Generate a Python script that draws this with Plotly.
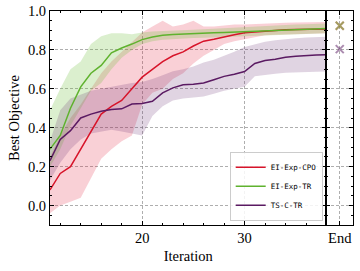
import plotly.graph_objects as go

iterations = [11, 12, 13, 14, 15, 16, 17, 18, 19, 20, 21, 22, 23, 24, 25, 26, 27, 28, 29, 30, 31, 32, 33, 34, 35, 36, 37, 38]

cpo_mean = [0.08, 0.165, 0.20, 0.29, 0.38, 0.47, 0.51, 0.54, 0.60, 0.66, 0.70, 0.74, 0.77, 0.79, 0.82, 0.845, 0.855, 0.868, 0.878, 0.888, 0.892, 0.897, 0.90, 0.903, 0.905, 0.906, 0.907, 0.908]
cpo_lo = [-0.04, 0.0, 0.02, 0.04, 0.14, 0.24, 0.29, 0.33, 0.36, 0.52, 0.58, 0.60, 0.65, 0.68, 0.73, 0.77, 0.80, 0.83, 0.845, 0.855, 0.865, 0.875, 0.878, 0.88, 0.882, 0.883, 0.884, 0.885]
cpo_hi = [0.25, 0.36, 0.45, 0.52, 0.60, 0.68, 0.74, 0.79, 0.84, 0.89, 0.92, 0.95, 0.92, 0.93, 0.95, 0.92, 0.92, 0.925, 0.93, 0.93, 0.933, 0.936, 0.938, 0.94, 0.941, 0.942, 0.943, 0.944]

tr_mean = [0.29, 0.36, 0.50, 0.61, 0.68, 0.72, 0.785, 0.81, 0.83, 0.853, 0.866, 0.875, 0.879, 0.882, 0.884, 0.886, 0.888, 0.890, 0.892, 0.894, 0.896, 0.898, 0.900, 0.902, 0.904, 0.906, 0.908, 0.910]
tr_lo = [0.20, 0.29, 0.41, 0.50, 0.59, 0.63, 0.70, 0.76, 0.80, 0.83, 0.845, 0.852, 0.856, 0.859, 0.861, 0.863, 0.865, 0.867, 0.869, 0.871, 0.873, 0.875, 0.877, 0.879, 0.881, 0.883, 0.884, 0.885]
tr_hi = [0.49, 0.60, 0.70, 0.74, 0.83, 0.87, 0.885, 0.885, 0.88, 0.89, 0.895, 0.898, 0.90, 0.902, 0.904, 0.906, 0.909, 0.912, 0.915, 0.918, 0.92, 0.923, 0.926, 0.928, 0.93, 0.932, 0.934, 0.936]

ts_mean = [0.23, 0.34, 0.385, 0.45, 0.47, 0.485, 0.494, 0.497, 0.522, 0.524, 0.536, 0.579, 0.605, 0.621, 0.623, 0.63, 0.647, 0.664, 0.675, 0.689, 0.73, 0.745, 0.752, 0.762, 0.768, 0.772, 0.774, 0.775]
ts_lo = [0.13, 0.22, 0.29, 0.34, 0.37, 0.38, 0.39, 0.38, 0.37, 0.36, 0.46, 0.51, 0.54, 0.55, 0.555, 0.56, 0.575, 0.59, 0.60, 0.61, 0.665, 0.672, 0.678, 0.682, 0.685, 0.687, 0.688, 0.689]
ts_hi = [0.33, 0.49, 0.55, 0.57, 0.59, 0.60, 0.61, 0.62, 0.63, 0.635, 0.65, 0.67, 0.69, 0.70, 0.715, 0.735, 0.75, 0.77, 0.79, 0.815, 0.83, 0.842, 0.85, 0.856, 0.86, 0.864, 0.867, 0.868]

end_label = ["End"]
end_values = {"EI-Exp-CPO": 0.924, "EI-Exp-TR": 0.924, "TS-C-TR": 0.804}

series = [
    ("EI-Exp-CPO", cpo_mean, cpo_lo, cpo_hi, "#d7142a", "rgba(228,40,70,0.22)"),
    ("EI-Exp-TR", tr_mean, tr_lo, tr_hi, "#5fb22e", "rgba(110,190,60,0.25)"),
    ("TS-C-TR", ts_mean, ts_lo, ts_hi, "#5a1a62", "rgba(100,40,110,0.2)"),
]

fig = go.Figure()
for name, mean, lo, hi, col, fcol in series:
    fig.add_trace(go.Scatter(x=iterations, y=lo, mode="lines", line=dict(width=0), showlegend=False,
                             hoverinfo="skip", xaxis="x", yaxis="y"))
    fig.add_trace(go.Scatter(x=iterations, y=hi, mode="lines", line=dict(width=0), fill="tonexty",
                             fillcolor=fcol, showlegend=False, hoverinfo="skip", xaxis="x", yaxis="y"))
for name, mean, lo, hi, col, fcol in series:
    fig.add_trace(go.Scatter(x=iterations, y=mean, mode="lines", name=name, line=dict(color=col, width=1.5),
                             xaxis="x", yaxis="y"))
for name, mean, lo, hi, col, fcol in series:
    fig.add_trace(go.Scatter(x=[0], y=[end_values[name]], mode="markers", showlegend=False,
                             marker=dict(symbol="x-thin", size=8, line=dict(color=col, width=2)),
                             opacity=0.5, xaxis="x2", yaxis="y2"))

font_family = "Liberation Serif"
grid = dict(showgrid=True, gridcolor="rgba(130,130,130,0.65)", griddash="3px,2px", gridwidth=0.8)
common_y = dict(range=[-0.1, 1.0], tickmode="array", tickvals=[0.0, 0.2, 0.4, 0.6, 0.8, 1.0],
                ticks="inside", ticklen=4, tickcolor="black", showline=True, linecolor="black", linewidth=1,
                mirror="ticks", zeroline=False, automargin=False,
                minor=dict(dtick=0.05, tick0=0, ticks="inside", ticklen=2, tickcolor="black", showgrid=False),
                **grid)

fig.update_layout(
    width=360, height=271,
    margin=dict(l=50, r=7, t=11, b=46),
    paper_bgcolor="white", plot_bgcolor="white",
    font=dict(family=font_family, size=14.5, color="black"),
    xaxis=dict(domain=[0, 0.9125], range=[11, 38], tickmode="array", tickvals=[20, 30],
               ticks="inside", ticklen=4, tickcolor="black", showline=True, linecolor="black", linewidth=1,
               mirror="ticks", zeroline=False, anchor="y", automargin=False,
               minor=dict(tickvals=[12, 14, 16, 18, 22, 24, 26, 28, 32, 34, 36], ticks="inside", ticklen=2,
                          tickcolor="black", showgrid=False),
               title=dict(text="Iteration", standoff=5, font=dict(size=14.5)), **grid),
    xaxis2=dict(domain=[0.9125, 1], range=[-1, 1], tickmode="array", tickvals=[0], ticktext=end_label,
                ticks="inside", ticklen=4, tickcolor="black", showline=True, linecolor="black", linewidth=1,
                mirror="ticks", zeroline=False, anchor="y2", automargin=False, **grid),
    yaxis=dict(anchor="x", tickformat=".1f", title=dict(text="Best Objective", standoff=4, font=dict(size=14.5)),
               **common_y),
    yaxis2=dict(anchor="x2", showticklabels=False, **common_y),
    legend=dict(x=0.9, y=0.02, xanchor="right", yanchor="bottom", traceorder="normal",
                bgcolor="rgba(255,255,255,0.85)", bordercolor="#cccccc", borderwidth=1,
                font=dict(family="DejaVu Sans Mono", size=7.5), tracegroupgap=0, itemwidth=30),
    showlegend=True,
)

fig.write_html("out.html", config={"displayModeBar": False},
               post_script="document.body.style.margin='0';")
